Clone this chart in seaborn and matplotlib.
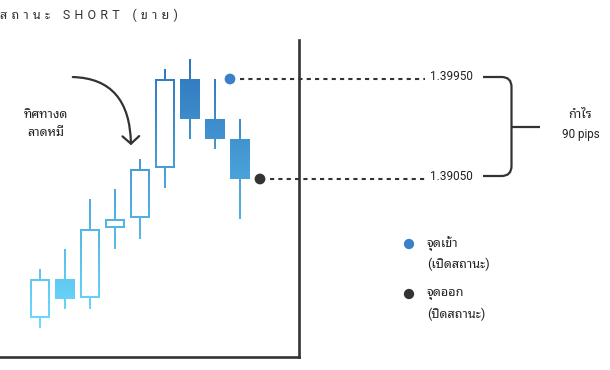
import numpy as np
import pandas as pd
import matplotlib
matplotlib.use("Agg")
import matplotlib.pyplot as plt
import seaborn as sns
from matplotlib.path import Path
from matplotlib.patches import PathPatch, FancyArrowPatch
from matplotlib.transforms import IdentityTransform
from matplotlib.colors import to_rgb

# ---------------- data ----------------
candle_idx = [0, 1, 2, 3, 4, 5, 6, 7, 8]
opens  = [1.37800, 1.38150, 1.37980, 1.38610, 1.38700, 1.39150, 1.39950, 1.39590, 1.39410]
highs  = [1.38240, 1.38420, 1.38870, 1.38960, 1.39230, 1.40040, 1.40130, 1.39950, 1.39590]
lows   = [1.37710, 1.37880, 1.37880, 1.38420, 1.38510, 1.38970, 1.39410, 1.39320, 1.38690]
closes = [1.38150, 1.37970, 1.38600, 1.38690, 1.39140, 1.39950, 1.39590, 1.39410, 1.39050]

entry_price = 1.39950
exit_price = 1.39050
entry_label = "1.39950"
exit_label = "1.39050"
profit_lines = ["กำไร", "90 pips"]
title_words = ["สถานะ", "SHORT", "(ขาย)"]
trend_lines = ["ทิศทางด", "ลาดหมี"]
legend_labels = [["จุดเข้า", "(เปิดสถานะ)"], ["จุดออก", "(ปิดสถานะ)"]]

# ---------------- fonts ----------------
sns.set_style("white")
THAI = "Noto Sans Thai Looped"
FAMS = ["Roboto", THAI, "DejaVu Sans"]
plt.rcParams["font.family"] = FAMS
THAI_FS = 9.1
LAT_FS = 8.4

W, H = 610, 370
DPI = 100
fig = plt.figure(figsize=(W / DPI, H / DPI), dpi=DPI)

# axes box (pixel layout, image coords: y down)
AX_L, AX_R, AX_T, AX_B = 0, 298.5, 40, 357
ax = fig.add_axes([AX_L / W, (H - AX_B) / H, (AX_R - AX_L) / W, (AX_B - AX_T) / H])

# scale: 25 px per candle, 0.00009 price per px
PX_X = 25.0
PX_Y = 0.00009
X0_PX = 40
XLIM = ((AX_L - X0_PX) / PX_X, (AX_R - X0_PX) / PX_X)
YLIM = (entry_price - (AX_B - 79) * PX_Y, entry_price + (79 - AX_T) * PX_Y)
ax.set_xlim(*XLIM)
ax.set_ylim(*YLIM)
ax.set_xticks([]); ax.set_yticks([])
for s in ["top", "left"]:
    ax.spines[s].set_visible(False)
for s in ["right", "bottom"]:
    ax.spines[s].set_color("#333333")
    ax.spines[s].set_linewidth(1.9)
ax.set_facecolor("none")

def img2fig(x, y):
    return x / W, 1 - y / H

def fp(x, y):
    return (x, H - y)

# ---------------- candles as one compound path in display coords ----------------
T = ax.transData
verts, codes = [], []

def rect(x0, y0, x1, y1, ccw=True):
    pts = [(x0, y0), (x1, y0), (x1, y1), (x0, y1)]
    if not ccw:
        pts = pts[::-1]
    verts.extend(pts + [pts[0]])
    codes.extend([Path.MOVETO, Path.LINETO, Path.LINETO, Path.LINETO, Path.CLOSEPOLY])

BODY_W = 0.8
WICK_PX = 2.2
BORDER_PX = 2.2
for i, o, h, l, c in zip(candle_idx, opens, highs, lows, closes):
    top, bot = max(o, c), min(o, c)
    (xl, yt), (xr, yb) = T.transform((i - BODY_W / 2, top)), T.transform((i + BODY_W / 2, bot))
    xc, yh = T.transform((i, h))
    _, yl = T.transform((i, l))
    rect(xl, yb, xr, yt)
    if c > o:
        b = BORDER_PX
        rect(xl + b, yb + b, xr - b, yt - b, ccw=False)
    rect(xc - WICK_PX / 2, yt - 0.5, xc + WICK_PX / 2, yh)
    rect(xc - WICK_PX / 2, yl, xc + WICK_PX / 2, yb + 0.5)

cpath = Path(np.array(verts), codes)

# vertical gradient (dark blue at top -> light cyan at bottom)
top_col = np.array(to_rgb("#2f75bd"))
bot_col = np.array(to_rgb("#6ddcfd"))
ys = np.linspace(YLIM[0], YLIM[1], 400)
yimg = 79 + (entry_price - ys) / PX_Y
t = np.clip((yimg - 59) / (328 - 59), 0, 1)[:, None]
grad = top_col * (1 - t) + bot_col * t
grad_img = np.repeat(grad[:, None, :], 2, axis=1)
im = ax.imshow(grad_img, extent=(*XLIM, *YLIM), origin="lower",
               aspect="auto", interpolation="bilinear", zorder=2)
im.set_clip_path(cpath, IdentityTransform())
ax.set_xlim(*XLIM)
ax.set_ylim(*YLIM)

# ---------------- entry / exit points ----------------
pts = pd.DataFrame({"x": [7.6, 8.8], "y": [entry_price, exit_price], "kind": ["entry", "exit"]})
pal = {"entry": "#3a80c8", "exit": "#333333"}
sns.scatterplot(data=pts, x="x", y="y", hue="kind", palette=pal, s=60, linewidth=0,
                legend=False, ax=ax, zorder=5, clip_on=False)

LINE_END = (425 - X0_PX) / PX_X
for x_start, y in [(8.0, entry_price), (9.2, exit_price)]:
    ax.plot([x_start, LINE_END], [y, y], color="#333333", lw=1.5, ls=(0, (2, 2)),
            clip_on=False, zorder=4)

LABEL_X = (430 - X0_PX) / PX_X
for y, lab in [(entry_price, entry_label), (exit_price, exit_label)]:
    ax.text(LABEL_X, y + 2.5 * PX_Y, lab, fontsize=8.5, color="#222222", va="center",
            ha="left", clip_on=False)

# bracket
bx0, bx1, bxm = 483, 511.5, 540
by0, by1 = 77, 176
r = 10
bym = (by0 + by1) / 2
bverts = [fp(bx0, by0), fp(bx1 - r, by0), fp(bx1, by0), fp(bx1, by0 + r),
          fp(bx1, by1 - r), fp(bx1, by1), fp(bx1 - r, by1), fp(bx0, by1)]
bcodes = [Path.MOVETO, Path.LINETO, Path.CURVE3, Path.CURVE3, Path.LINETO,
          Path.CURVE3, Path.CURVE3, Path.LINETO]
fig.add_artist(PathPatch(Path(bverts, bcodes), transform=IdentityTransform(), fill=False,
                         edgecolor="#333333", lw=1.6))
fig.add_artist(PathPatch(Path([fp(bx1, bym), fp(bxm, bym)]), transform=IdentityTransform(),
                         fill=False, edgecolor="#333333", lw=1.6))

fig.text(*img2fig(580, 115), profit_lines[0], fontsize=THAI_FS, color="#222222",
         ha="center", va="center")
fig.text(*img2fig(581, 134), profit_lines[1], fontsize=LAT_FS, color="#222222",
         ha="center", va="center")

# title with letter spacing (three-per-em spaces between letters)
SP = "\u2004"
title_text = (SP * 3).join(SP.join(list(w)) for w in title_words)
fig.text(*img2fig(0, 15), title_text, fontsize=9, color="#333333", ha="left", va="center")

# trend text
for yy, s in zip([114, 133], trend_lines):
    fig.text(*img2fig(46, yy), s, fontsize=THAI_FS, color="#222222", ha="center", va="center")

# curved arrow
arr = FancyArrowPatch(fp(70, 77), fp(131, 148), transform=IdentityTransform(),
                      connectionstyle="angle3,angleA=0,angleB=90",
                      arrowstyle="->,head_length=0.45,head_width=0.5", mutation_scale=12,
                      color="#333333", lw=1.6)
fig.add_artist(arr)

# legend
leg = pd.DataFrame({"x": [(409 - X0_PX) / PX_X] * 2,
                    "y": [entry_price - (244 - 79) * PX_Y, entry_price - (294 - 79) * PX_Y],
                    "kind": ["entry", "exit"]})
sns.scatterplot(data=leg, x="x", y="y", hue="kind", palette=pal, s=55, linewidth=0,
                legend=False, ax=ax, zorder=5, clip_on=False)
for (l1, l2), yy in zip(legend_labels, [244, 294]):
    fig.text(*img2fig(427, yy), l1, fontsize=THAI_FS, color="#222222", ha="left", va="center")
    fig.text(*img2fig(427, yy + 20), l2, fontsize=THAI_FS, color="#222222", ha="left", va="center")

ax.set_xlabel(""); ax.set_ylabel("")
ax.set_xlim(*XLIM)
ax.set_ylim(*YLIM)

fig.savefig("out.png", dpi=DPI)
